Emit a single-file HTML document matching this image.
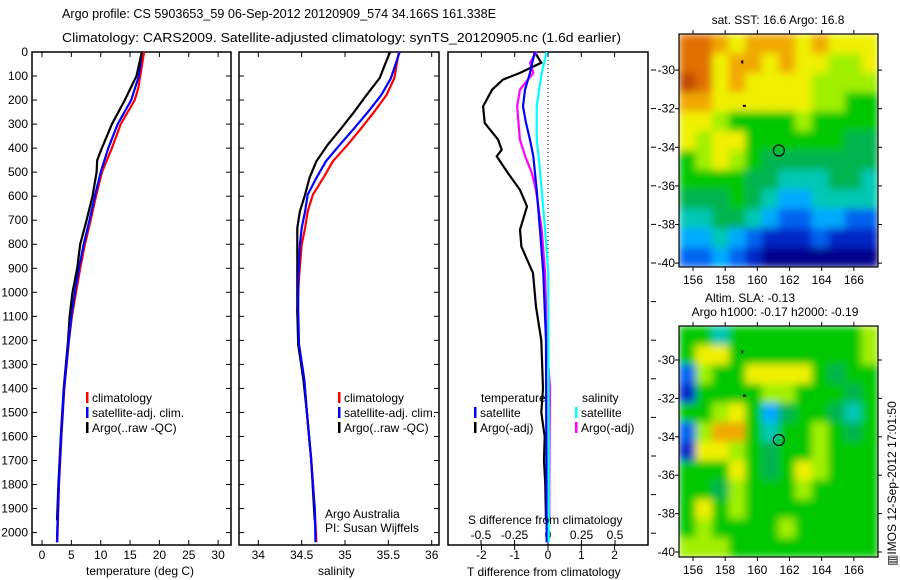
<!DOCTYPE html>
<html><head><meta charset="utf-8"><style>
html,body{margin:0;padding:0;background:#fff}
svg{display:block;font-family:"Liberation Sans",Arial,sans-serif}
text{font-size:12px;fill:#000}
text.big{font-size:13px}
</style></head><body>
<svg id="fig" width="900" height="580" viewBox="0 0 900 580" xmlns="http://www.w3.org/2000/svg">
<defs>
<filter id="blur" x="0" y="0" width="1" height="1"><feGaussianBlur stdDeviation="4" edgeMode="duplicate"/></filter>
<clipPath id="clipA"><rect x="679" y="34" width="199" height="233"/></clipPath>
<clipPath id="clipB"><rect x="679" y="326" width="199" height="231"/></clipPath>
</defs>
<text class="big" x="62" y="18" textLength="434" lengthAdjust="spacingAndGlyphs">Argo profile: CS 5903653_59 06-Sep-2012 20120909_574 34.166S 161.338E</text>
<text class="big" x="62" y="42" textLength="559" lengthAdjust="spacingAndGlyphs">Climatology: CARS2009. Satellite-adjusted climatology: synTS_20120905.nc (1.6d earlier)</text>
<g id="maps"></g>
<g id="p1"></g><g id="p2"></g><g id="p3"></g>
<text x="86" y="575">temperature (deg C)</text>
<text x="318" y="575">salinity</text>
<text x="467" y="576">T difference from climatology</text>
<text x="468" y="524">S difference from climatology</text>
<text x="325" y="518">Argo Australia</text>
<text x="325" y="532">PI: Susan Wijffels</text>
<text x="778" y="24" text-anchor="middle">sat. SST: 16.6 Argo: 16.8</text>
<text x="750" y="302" text-anchor="middle">Altim. SLA: -0.13</text>
<text x="775" y="316" text-anchor="middle">Argo h1000: -0.17 h2000: -0.19</text>
<text x="0" y="0" transform="translate(896,566) rotate(-90)">▥IMOS 12-Sep-2012 17:01:50</text>
</svg>
<script>
// ---------- data ----------
const depthTicks=[0,100,200,300,400,500,600,700,800,900,1000,1100,1200,1300,1400,1500,1600,1700,1800,1900,2000];
const tempTicks=[0,5,10,15,20,25,30];
const salTicks=[34,34.5,35,35.5,36];
const salTickLabels=["34","34.5","35","35.5","36"];
const tdTicks=[-2,-1,0,1,2];
const sdTicks=[-0.5,-0.25,0,0.25,0.5];
const sdTickLabels=["-0.5","-0.25","0","0.25","0.5"];

const tClimDepth=[0,150,200,300,400,500,600,700,800,900,1000,1100,1200,1400,1600,1800,2040];
const tClim=[17.4,16.4,15.8,13.4,11.9,10.2,9.2,8.3,7.3,6.5,5.8,5.1,4.6,3.8,3.3,2.9,2.6];
const tSatDepth=[0,100,200,300,400,500,600,700,800,900,1000,1100,1200,1400,1600,1800,2040];
const tSat=[17.0,16.5,15.2,12.9,11.3,10.0,9.0,8.1,7.1,6.3,5.6,5.0,4.55,3.75,3.25,2.85,2.55];
const tArgoDepth=[0,100,200,300,400,450,500,600,700,800,900,1000,1100,1200,1400,1600,1800,1950];
const tArgo=[17.0,16.1,14.1,11.9,10.2,9.4,9.3,8.6,7.6,6.5,6.0,5.2,4.7,4.45,3.7,3.2,2.8,2.55];

const sClimDepth=[0,108,178,247,316,386,455,524,594,663,732,802,940,1079,1218,1364,1500,1697,1900,2040];
const sClim=[35.62,35.57,35.48,35.34,35.19,35.03,34.86,34.75,34.63,34.57,34.54,34.5,34.47,34.45,34.47,34.53,34.56,34.61,34.65,34.67];
const sSatDepth=[0,108,178,247,316,386,455,524,594,663,732,802,940,1079,1218,1364,1500,1697,1900,2040];
const sSat=[35.63,35.53,35.42,35.27,35.11,34.94,34.78,34.67,34.57,34.54,34.5,34.48,34.46,34.46,34.47,34.53,34.56,34.61,34.65,34.66];
const sArgoDepth=[0,53,108,178,247,316,386,455,524,594,663,732,802,940,1079,1218,1364,1500,1697,1950];
const sArgo=[35.52,35.46,35.40,35.25,35.11,34.96,34.80,34.67,34.59,34.54,34.48,34.45,34.45,34.45,34.45,34.46,34.52,34.56,34.61,34.65];

const dTArgoDepth=[0,45,87,115,157,226,295,365,407,434,504,574,643,740,810,920,1060,1200,1400,1500,1600,1700,1800,1950];
const dTArgo=[-0.4,-0.2,-0.84,-1.35,-1.68,-1.95,-1.9,-1.5,-1.39,-1.54,-1.2,-0.84,-0.63,-0.84,-0.8,-0.45,-0.36,-0.2,-0.15,-0.2,-0.1,-0.12,-0.08,-0.06];
const dTSatDepth=[0,87,157,226,295,365,434,574,740,920,1200,1600,2040];
const dTSat=[-0.4,-0.54,-0.69,-0.75,-0.66,-0.54,-0.44,-0.34,-0.24,-0.14,-0.06,-0.05,-0.04];
const dSArgoDepth=[0,45,87,157,226,295,365,434,504,574,740,920,1060,1200,1400,1600,1800,1950];
const dSArgo=[-0.084,-0.134,-0.11,-0.21,-0.23,-0.22,-0.21,-0.17,-0.12,-0.09,-0.047,-0.022,-0.015,-0.01,0.015,0.012,0.01,0.01];
const dSSatDepth=[0,87,226,365,434,574,740,920,1200,1600,2040];
const dSSat=[-0.01,-0.047,-0.084,-0.084,-0.07,-0.047,-0.022,0.002,0.002,0.005,0.005];

const mapLon=[156,158,160,162,164,166];
const mapLat=[-30,-32,-34,-36,-38,-40];
const argoLon=161.338, argoLat=-34.166;
const sstGrid=["aa98999898 88","aa89989887 78","ba89888877 77","9988888877 66","8876666766 66","8788666666 55","6787655555 55","6666554445 54","5556543344 44","4455432233 22","3343211121 11","2232100000 00"];
const slaGrid=["6646666666 67","6886666666 67","2766888865 66","1666677666 56","6678635665 46","2799646676 56","1887656676 66","6668656876 66","6657666766 66","6867666666 66","6766667666 66","7776666666 66"];
const palette={"0":"#00008c","1":"#0028c8","2":"#0064f0","3":"#00aaff","4":"#00c8b4","5":"#00b450","6":"#00c800","7":"#a0f000","8":"#f0f000","9":"#f0a800","a":"#e07000","b":"#c04800"};

// ---------- helpers ----------
const NS="http://www.w3.org/2000/svg";
function mk(tag,attrs,parent){const e=document.createElementNS(NS,tag);for(const k in attrs)e.setAttribute(k,attrs[k]);parent.appendChild(e);return e;}
const TOP=52,BOT=545;
const yD=d=>TOP+d*0.2403;
function line(parent,xs,ds,xf,color,name){
  const pts=xs.map((v,i)=>xf(v).toFixed(1)+","+yD(ds[i]).toFixed(1)).join(" ");
  const p=mk("polyline",{points:pts,fill:"none",stroke:color,"stroke-width":2.2,"stroke-linejoin":"miter"},parent);
  
  
}
function frame(g,x0,x1,name){
  const r=mk("rect",{x:x0,y:TOP,width:x1-x0,height:BOT-TOP,fill:"none",stroke:"#000","stroke-width":1.5},g);
  
  
  depthTicks.forEach(d=>{const y=yD(d);mk("line",{x1:x0,x2:x0+5,y1:y,y2:y,stroke:"#000"},g);mk("line",{x1:x1,x2:x1-5,y1:y,y2:y,stroke:"#000"},g);});
}
function legendItem(g,x,y,color,label,name){
  mk("rect",{x:x,y:y-10,width:2.5,height:11,fill:color},g);
  const t=mk("text",{x:x+6,y:y},g);t.textContent=label;
  
  
}

// ---------- panel 1: temperature ----------
const p1=document.getElementById("p1");
const xT=v=>42+v*5.87;
frame(p1,32,231,"temperature-panel-frame");
depthTicks.forEach(d=>{const t=mk("text",{x:28,y:yD(d)+4,"text-anchor":"end"},p1);t.textContent=d;
  
  });
tempTicks.forEach(v=>{const x=xT(v);mk("line",{x1:x,x2:x,y1:BOT,y2:BOT-5,stroke:"#000"},p1);mk("line",{x1:x,x2:x,y1:TOP,y2:TOP+5,stroke:"#000"},p1);
  const t=mk("text",{x:x,y:559,"text-anchor":"middle"},p1);t.textContent=v;
  
  });
line(p1,tClim,tClimDepth,xT,"#ff0000","temp-climatology-line");
line(p1,tSat,tSatDepth,xT,"#0000ff","temp-satellite-line");
line(p1,tArgo,tArgoDepth,xT,"#000000","temp-argo-line");
line(p1,tSat.slice(11),tSatDepth.slice(11),xT,"#0000ff","temp-satellite-deep-line");
legendItem(p1,86,402,"#ff0000","climatology","legend-climatology");
legendItem(p1,86,417,"#0000ff","satellite-adj. clim.","legend-satellite-adj");
legendItem(p1,86,432,"#000000","Argo(..raw -QC)","legend-argo");

// ---------- panel 2: salinity ----------
const p2=document.getElementById("p2");
const xS=v=>258.3+(v-34)*86.7;
frame(p2,239,439,"salinity-panel-frame");
salTicks.forEach((v,i)=>{const x=xS(v);mk("line",{x1:x,x2:x,y1:BOT,y2:BOT-5,stroke:"#000"},p2);mk("line",{x1:x,x2:x,y1:TOP,y2:TOP+5,stroke:"#000"},p2);
  const t=mk("text",{x:x,y:559,"text-anchor":"middle"},p2);t.textContent=salTickLabels[i];
  
  });
line(p2,sClim,sClimDepth,xS,"#ff0000","sal-climatology-line");
line(p2,sArgo,sArgoDepth,xS,"#000000","sal-argo-line");
line(p2,sSat,sSatDepth,xS,"#0000ff","sal-satellite-line");
legendItem(p2,338,402,"#ff0000","climatology","legend-climatology-2");
legendItem(p2,338,417,"#0000ff","satellite-adj. clim.","legend-satellite-adj-2");
legendItem(p2,338,432,"#000000","Argo(..raw -QC)","legend-argo-2");

// ---------- panel 3: differences ----------
const p3=document.getElementById("p3");
const xTD=v=>548+v*33.3;
const xSD=v=>548+v*134;
const f3=mk("rect",{x:448,y:TOP,width:200,height:BOT-TOP,fill:"none",stroke:"#000","stroke-width":1.5},p3);


mk("line",{x1:548,x2:548,y1:TOP,y2:BOT,stroke:"#000","stroke-dasharray":"1,3"},p3);
tdTicks.forEach(v=>{const x=xTD(v);mk("line",{x1:x,x2:x,y1:BOT,y2:BOT+5,stroke:"#000"},p3);mk("line",{x1:x,x2:x,y1:TOP,y2:TOP+5,stroke:"#000"},p3);
  const t=mk("text",{x:x,y:559,"text-anchor":"middle"},p3);t.textContent=v;
  
  });
sdTicks.forEach((v,i)=>{const x=xSD(v);mk("line",{x1:x,x2:x,y1:BOT,y2:BOT-5,stroke:"#000"},p3);
  const t=mk("text",{x:x,y:539,"text-anchor":"middle"},p3);t.textContent=sdTickLabels[i];
  
  });
for(let y=70;y<556;y+=38.6){mk("line",{x1:651,x2:656,y1:y,y2:y,stroke:"#000"},p3);}
line(p3,dTArgo,dTArgoDepth,xTD,"#000000","t-diff-argo-line");
line(p3,dSArgo,dSArgoDepth,xSD,"#ff00ff","s-diff-argo-line");
line(p3,dTSat,dTSatDepth,xTD,"#0000ff","t-diff-satellite-line");
line(p3,dSSat,dSSatDepth,xSD,"#00ffff","s-diff-satellite-line");
const lt=mk("text",{x:481,y:402},p3);lt.textContent="temperature";


const ls=mk("text",{x:582,y:402},p3);ls.textContent="salinity";


legendItem(p3,474,417,"#0000ff","satellite","legend-t-satellite");
legendItem(p3,474,432,"#000000","Argo(-adj)","legend-t-argo");
legendItem(p3,575,417,"#00ffff","satellite","legend-s-satellite");
legendItem(p3,575,432,"#ff00ff","Argo(-adj)","legend-s-argo");

// ---------- maps ----------
const maps=document.getElementById("maps");
function drawMap(grid,x0,x1,y0,y1,lat0,lat1,name,clipId){
  const g=mk("g",{},maps);
  
  
  const cg=mk("g",{"clip-path":"url(#"+clipId+")"},g);
  const bg=mk("g",{filter:"url(#blur)"},cg);
  const rows=grid.map(r=>r.replace(/ /g,""));
  const nr=rows.length,nc=rows[0].length,cw=(x1-x0)/nc,ch=(y1-y0)/nr;
  rows.forEach((r,i)=>{[...r].forEach((c,j)=>{mk("rect",{x:x0+j*cw,y:y0+i*ch,width:cw+0.6,height:ch+0.6,fill:palette[c]},bg);});});
  const lon0=155.13,lon1=167.5;
  const xL=v=>x0+(v-lon0)/(lon1-lon0)*(x1-x0);
  const yL=v=>y0+(lat0-v)/(lat0-lat1)*(y1-y0);
  mk("rect",{x:x0,y:y0,width:x1-x0,height:y1-y0,fill:"none",stroke:"#000","stroke-width":1.2},g);
  mapLon.forEach(v=>{const x=xL(v);mk("line",{x1:x,x2:x,y1:y1,y2:y1+4,stroke:"#000"},g);mk("line",{x1:x,x2:x,y1:y0,y2:y0-4,stroke:"#000"},g);
    const t=mk("text",{x:x,y:y1+17,"text-anchor":"middle"},g);t.textContent=v;
    
    });
  mapLat.forEach(v=>{const y=yL(v);mk("line",{x1:x0,x2:x0-4,y1:y,y2:y,stroke:"#000"},g);mk("line",{x1:x1,x2:x1+4,y1:y,y2:y,stroke:"#000"},g);
    const t=mk("text",{x:x0-4,y:y+4,"text-anchor":"end"},g);t.textContent=v;
    
    });
  const c=mk("circle",{cx:xL(argoLon),cy:yL(argoLat),r:5.5,fill:"none",stroke:"#000","stroke-width":1.2},g);
  
  
  mk("rect",{x:xL(159),y:yL(-29.5),width:2,height:3,fill:"#000"},g);
  mk("rect",{x:xL(159.1),y:yL(-31.8),width:3,height:2,fill:"#000"},g);
}
drawMap(sstGrid,679,878,34,267,-28.13,-40.2,"sst-map","clipA");
drawMap(slaGrid,679,878,326,557,-28.23,-40.26,"sla-map","clipB");
</script>
</body></html>
